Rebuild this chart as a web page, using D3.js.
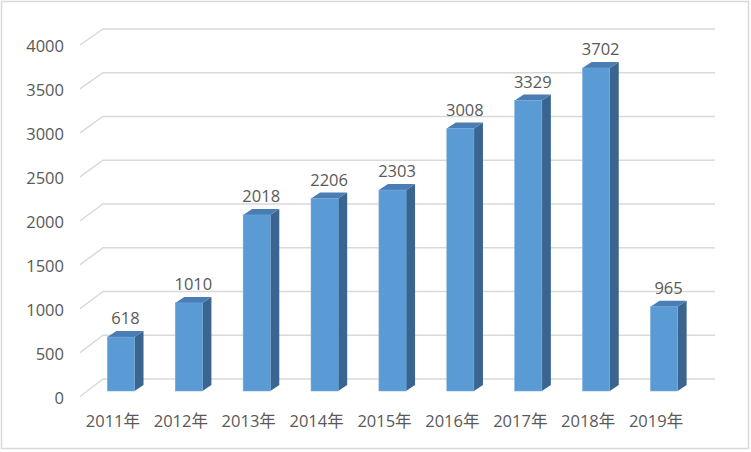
<!DOCTYPE html>
<html lang="zh">
<head>
<meta charset="UTF-8">
<title>年度数量</title>
<style>
  body { margin: 0; background: #fff; }
  svg { display: block; }
  text { font-family: "Open Sans", "Noto Sans CJK SC", sans-serif; fill: #595959; }
</style>
</head>
<body>
<svg width="751" height="452"></svg>
<script src="https://d3js.org/d3.v7.min.js"></script>
<script>
const years = ["2011年", "2012年", "2013年", "2014年", "2015年", "2016年", "2017年", "2018年", "2019年"];
const values = [618, 1010, 2018, 2206, 2303, 3008, 3329, 3702, 965];
const yTicks = [0, 500, 1000, 1500, 2000, 2500, 3000, 3500, 4000];

const svg = d3.select("svg");

// chart border
svg.append("rect")
    .attr("x", 1.5).attr("y", 1.5)
    .attr("width", 747).attr("height", 447)
    .attr("fill", "#fff")
    .attr("stroke", "#d9d9d9")
    .attr("stroke-width", 1.5);

// bar fronts, floor front edge and back wall each get their own scale
const y = d3.scaleLinear().domain([0, 4000]).range([391, 42]);
const yFloor = d3.scaleLinear().domain([0, 4000]).range([396.5, 45]);
const yWall = d3.scaleLinear().domain([0, 4000]).range([379, 29]);
const x = d3.scaleBand().domain(years).range([87, 698]).paddingInner(0.6).paddingOuter(0.3);
const depth = { dx: 9, dy: -6 };      // bar depth
const floorX = 80, wallX = 103, wallRight = 715;

// gridlines: diagonal on the left side wall, then across the back wall
const grid = svg.append("g");
yTicks.forEach(v => {
    grid.append("path")
        .attr("d", `M${floorX},${yFloor(v)}L${wallX},${yWall(v)}L${wallRight},${yWall(v)}`)
        .attr("fill", "none")
        .attr("stroke", "#d9d9d9")
        .attr("stroke-width", 1.5);
    svg.append("text")
        .attr("x", 64)
        .attr("y", yFloor(v) + 7)
        .attr("text-anchor", "end")
        .attr("font-size", 16.5)
        .text(v);
});

// bars
const bars = svg.append("g");
years.forEach((c, i) => {
    const x0 = x(c), w = x.bandwidth();
    const yt = y(values[i]), yb = y(0);
    // side
    bars.append("path")
        .attr("d", `M${x0 + w},${yt}L${x0 + w + depth.dx},${yt + depth.dy}L${x0 + w + depth.dx},${yb + depth.dy}L${x0 + w},${yb}Z`)
        .attr("fill", "#3a6590");
    // top
    bars.append("path")
        .attr("d", `M${x0},${yt}L${x0 + depth.dx},${yt + depth.dy}L${x0 + w + depth.dx},${yt + depth.dy}L${x0 + w},${yt}Z`)
        .attr("fill", "#4a7db3");
    // front
    bars.append("rect")
        .attr("x", x0).attr("y", yt)
        .attr("width", w).attr("height", yb - yt)
        .attr("fill", "#5b9bd5")
        .attr("stroke", "#6fa8dc")
        .attr("stroke-width", 0.5);
    // value label
    svg.append("text")
        .attr("x", x0 + w / 2 + depth.dx / 2)
        .attr("y", yt - 13)
        .attr("text-anchor", "middle")
        .attr("font-size", 16.5)
        .text(values[i]);
    // category label
    svg.append("text")
        .attr("x", x0 + w / 2 - 8)
        .attr("y", 427)
        .attr("text-anchor", "middle")
        .attr("font-size", 16.5)
        .text(c);
});
</script>
</body>
</html>
